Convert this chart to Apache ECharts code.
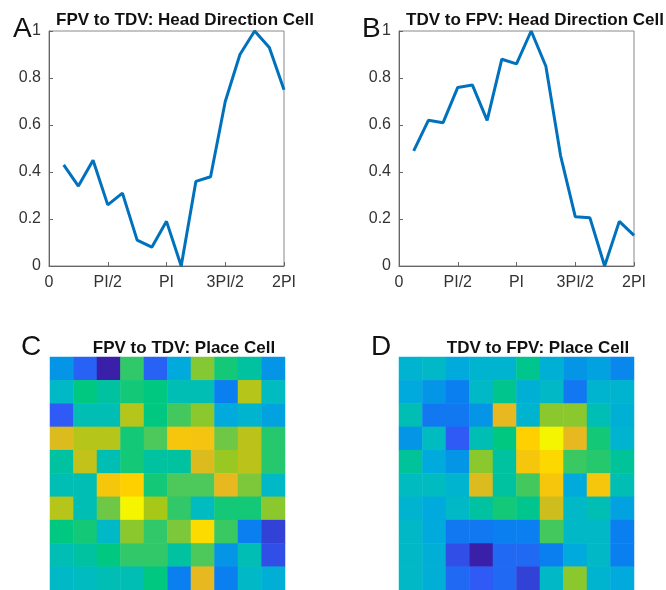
<!DOCTYPE html><html><head><meta charset="utf-8">
<script src="https://cdn.jsdelivr.net/npm/echarts@6/dist/echarts.min.js"></script>
<style>html,body{margin:0;padding:0;background:#fff}#c{width:666px;height:590px}</style></head><body><div id="c"></div>
<script>
const xTickLabels = ['0','PI/2','PI','3PI/2','2PI'];
const xIdx = [1,2,3,4,5,6,7,8,9,10,11,12,13,14,15,16]; // multiples of PI/8
const seriesA = [0.43,0.34,0.45,0.26,0.31,0.11,0.08,0.19,0.0,0.36,0.38,0.70,0.90,1.0,0.93,0.75];
const seriesB = [0.49,0.62,0.61,0.76,0.77,0.62,0.88,0.86,1.0,0.85,0.47,0.21,0.205,0.0,0.19,0.13];
const heatC = [
[0.25,0.12,0.0,0.55,0.12,0.3,0.65,0.52,0.45,0.25],
[0.38,0.5,0.45,0.52,0.5,0.42,0.42,0.2,0.72,0.4],
[0.1,0.42,0.42,0.72,0.5,0.57,0.66,0.3,0.35,0.28],
[0.78,0.72,0.72,0.52,0.58,0.86,0.85,0.62,0.73,0.54],
[0.45,0.74,0.42,0.52,0.45,0.45,0.78,0.68,0.73,0.54],
[0.42,0.42,0.86,0.9,0.52,0.58,0.58,0.8,0.64,0.38],
[0.72,0.42,0.62,1.0,0.7,0.55,0.4,0.52,0.52,0.66],
[0.5,0.52,0.38,0.66,0.55,0.64,0.93,0.56,0.2,0.06],
[0.42,0.45,0.5,0.55,0.55,0.45,0.58,0.25,0.42,0.08],
[0.38,0.4,0.42,0.42,0.5,0.2,0.8,0.2,0.38,0.32]];
const heatD = [
[0.35,0.38,0.3,0.35,0.35,0.48,0.33,0.25,0.28,0.22],
[0.3,0.25,0.2,0.38,0.48,0.33,0.38,0.18,0.35,0.35],
[0.42,0.18,0.18,0.25,0.8,0.35,0.66,0.66,0.42,0.33],
[0.25,0.4,0.1,0.42,0.5,0.9,1.0,0.8,0.52,0.35],
[0.46,0.3,0.25,0.66,0.45,0.86,0.92,0.56,0.54,0.46],
[0.4,0.4,0.35,0.78,0.45,0.57,0.86,0.3,0.86,0.42],
[0.35,0.3,0.38,0.45,0.52,0.48,0.76,0.38,0.42,0.28],
[0.38,0.3,0.18,0.18,0.2,0.2,0.57,0.38,0.38,0.2],
[0.38,0.32,0.08,0.0,0.14,0.14,0.2,0.3,0.38,0.2],
[0.38,0.32,0.14,0.1,0.14,0.06,0.38,0.66,0.35,0.3]];
const cats = ['1','2','3','4','5','6','7','8','9','10'];

const PI = Math.PI;
function toXY(vals){return vals.map((v,i)=>[xIdx[i]*PI/8,v]);}
function toCells(m){const o=[];m.forEach((r,y)=>r.forEach((v,x)=>o.push([x,y,v])));return o;}
const tf = {fontFamily:'Helvetica, Arial, Liberation Sans',fontSize:16,color:'#333'};
function lineX(g){return {gridIndex:g,type:'value',min:0,max:2*PI,interval:PI/2,
  axisLabel:Object.assign({},tf,{margin:9,formatter:v=>xTickLabels[Math.round(v/(PI/2))]}),
  axisLine:{lineStyle:{color:'#666'}},axisTick:{inside:true,length:4,lineStyle:{color:'#666'}},splitLine:{show:false}};}
function lineY(g){return {gridIndex:g,type:'value',min:0,max:1,interval:0.2,
  axisLabel:Object.assign({},tf,{margin:8,formatter:v=>(Math.abs(v-1)<1e-9?'1':(Math.abs(v)<1e-9?'0':v.toFixed(1)))}),
  axisLine:{show:true,lineStyle:{color:'#666'}},axisTick:{inside:true,length:4,lineStyle:{color:'#666'}},splitLine:{show:false}};}
function hx(g){return {gridIndex:g,type:'category',data:cats,show:false};}
function hy(g){return {gridIndex:g,type:'category',data:cats,show:false,inverse:true};}
const titleStyle={fontFamily:'Helvetica, Arial, Liberation Sans',fontSize:17,fontWeight:'bold',color:'#111'};
const letterStyle={fontFamily:'Helvetica, Arial, Liberation Sans',fontSize:28,fontWeight:'normal',color:'#111'};
const chart = echarts.init(document.getElementById('c'));
chart.setOption({
  animation:false,
  title:[
    {text:'FPV to TDV: Head Direction Cell',left:180,top:7,textAlign:'center',textStyle:titleStyle},
    {text:'TDV to FPV: Head Direction Cell',left:530,top:7,textAlign:'center',textStyle:titleStyle},
    {text:'FPV to TDV: Place Cell',left:179,top:335,textAlign:'center',textStyle:titleStyle},
    {text:'TDV to FPV: Place Cell',left:533,top:335,textAlign:'center',textStyle:titleStyle},
    {text:'A',left:8,top:10,textStyle:letterStyle},
    {text:'B',left:357,top:10,textStyle:letterStyle},
    {text:'C',left:16,top:328,textStyle:letterStyle},
    {text:'D',left:366,top:328,textStyle:letterStyle}
  ],
  grid:[
    {left:49,top:31,width:235,height:235,show:true,borderColor:'#888',borderWidth:1},
    {left:399,top:31,width:235,height:235,show:true,borderColor:'#888',borderWidth:1},
    {left:50,top:357,width:235,height:235},
    {left:399,top:357,width:235,height:235}
  ],
  xAxis:[lineX(0),lineX(1),hx(2),hx(3)],
  yAxis:[lineY(0),lineY(1),hy(2),hy(3)],
  visualMap:{show:false,min:0,max:1,seriesIndex:[2,3],
    inRange:{color:['#3a1fa8','#2f5af5','#0a80f0','#00aadc','#00bcc0','#00c880','#60c850','#a8c818','#e8b820','#ffd000','#f5f500']}},
  series:[
    {type:'line',xAxisIndex:0,yAxisIndex:0,data:toXY(seriesA),symbol:'none',lineStyle:{color:'#0072bd',width:3}},
    {type:'line',xAxisIndex:1,yAxisIndex:1,data:toXY(seriesB),symbol:'none',lineStyle:{color:'#0072bd',width:3}},
    {type:'heatmap',xAxisIndex:2,yAxisIndex:2,data:toCells(heatC)},
    {type:'heatmap',xAxisIndex:3,yAxisIndex:3,data:toCells(heatD)}
  ]
});
</script></body></html>
